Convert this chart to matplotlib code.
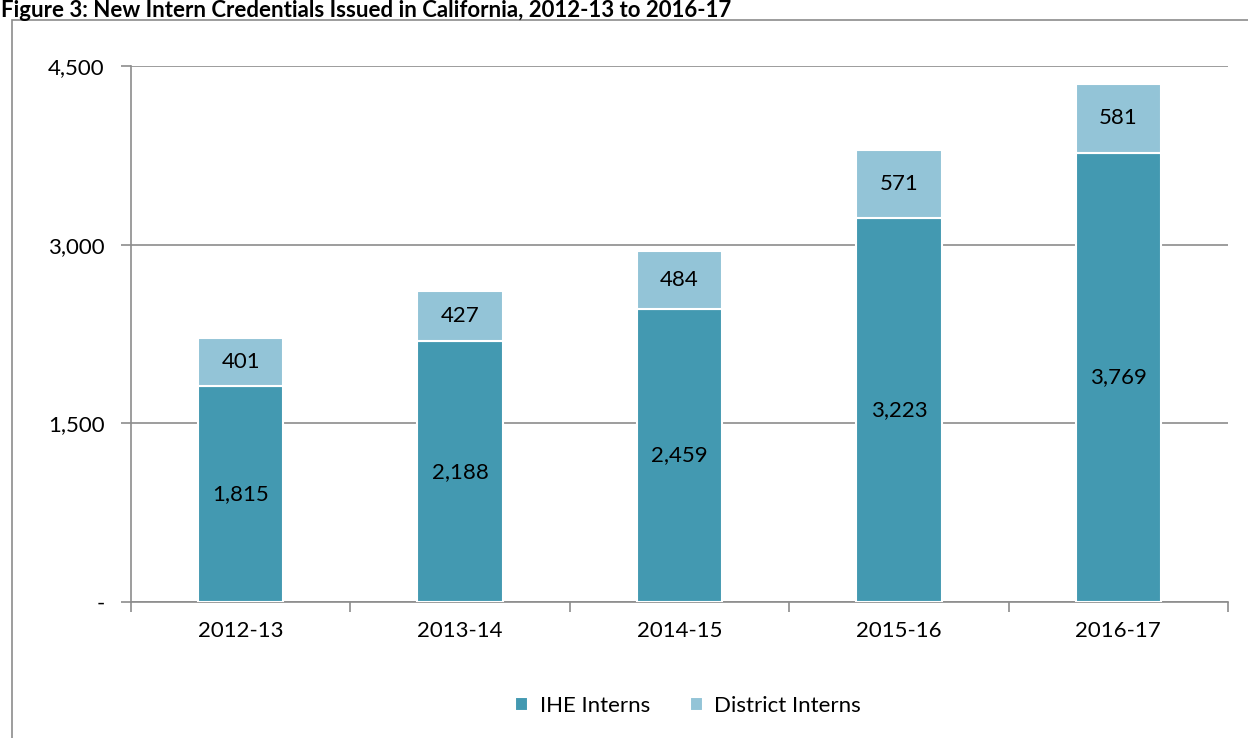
import matplotlib.pyplot as plt
from matplotlib.patches import Rectangle
import matplotlib.ticker as mticker

plt.rcParams['font.family'] = ['Lato', 'DejaVu Sans']

years = ['2012-13', '2013-14', '2014-15', '2015-16', '2016-17']
ihe = [1815, 2188, 2459, 3223, 3769]
district = [401, 427, 484, 571, 581]

c_ihe = '#4399b1'
c_dist = '#93c4d7'
grey = '#8c8c8c'

fig = plt.figure(figsize=(12.48, 7.38), dpi=100)
ax = fig.add_axes([131 / 1248, 1 - 602 / 738, (1228 - 131) / 1248, (602 - 66) / 738])

x = list(range(len(years)))
b1 = ax.bar(x, ihe, width=0.39, color=c_ihe, edgecolor='white', linewidth=1.5, zorder=3)
b2 = ax.bar(x, district, bottom=ihe, width=0.39, color=c_dist, edgecolor='white', linewidth=1.5, zorder=3)

# labels in the middle of each segment
for i in x:
    ax.text(i, ihe[i] / 2, f'{ihe[i]:,}', ha='center', va='center', fontsize=16, zorder=4)
    ax.text(i, ihe[i] + district[i] / 2, f'{district[i]:,}', ha='center', va='center', fontsize=16, zorder=4)

ax.set_xlim(-0.5, len(years) - 0.5)
ax.set_ylim(0, 4500)
ax.set_yticks([0, 1500, 3000, 4500])
ax.yaxis.set_major_formatter(mticker.FuncFormatter(lambda v, p: '-' if v == 0 else f'{int(v):,}'))
ax.yaxis.grid(True, color=grey, linewidth=1.2, zorder=0)
ax.set_axisbelow(True)

ax.set_xticks(x)
ax.set_xticklabels(years)
ax.set_xticks([i - 0.5 for i in range(len(years) + 1)], minor=True)
ax.tick_params(axis='x', which='major', length=0, pad=14, labelsize=16)
ax.tick_params(axis='x', which='minor', length=7, color=grey, width=1.2)
ax.tick_params(axis='y', length=7, color=grey, width=1.2, pad=12, labelsize=16)

for s in ['top', 'right']:
    ax.spines[s].set_visible(False)
for s in ['left', 'bottom']:
    ax.spines[s].set_color(grey)
    ax.spines[s].set_linewidth(1.2)

fig.legend([b1, b2], ['IHE Interns', 'District Interns'], loc='center',
           bbox_to_anchor=(688 / 1248, 1 - 706 / 738), ncol=2, frameon=False,
           fontsize=16, handlelength=0.6, handleheight=0.6, columnspacing=1.8, handletextpad=0.5)

# outer frame of the figure box
fig.patches.append(Rectangle((12 / 1248, -0.1), 1.2, 1 - 20 / 738 + 0.1, transform=fig.transFigure,
                             fill=False, edgecolor=grey, linewidth=1.2))

fig.text(0.001, 1 - 17 / 738, 'Figure 3: New Intern Credentials Issued in California, 2012-13 to 2016-17',
         fontsize=16, fontweight='bold', ha='left', va='baseline')

fig.savefig('out.png', dpi=100)
